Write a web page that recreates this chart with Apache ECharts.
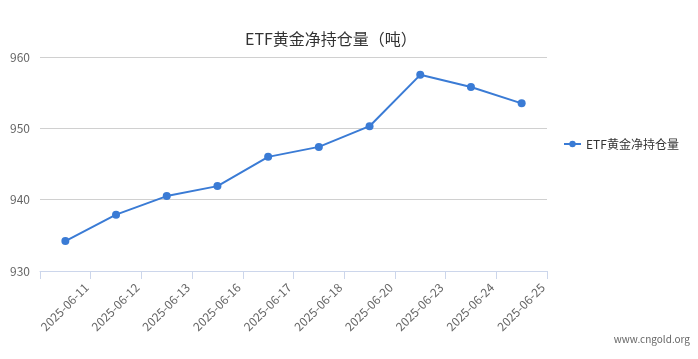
<!DOCTYPE html>
<html><head><meta charset="utf-8">
<script src="https://cdn.jsdelivr.net/npm/echarts@6/dist/echarts.min.js"></script>
<style>html,body{margin:0;padding:0;background:#fff}#c{width:698px;height:359px}</style>
</head><body><div id="c"></div>
<script>
var categories = ['2025-06-11','2025-06-12','2025-06-13','2025-06-16','2025-06-17','2025-06-18','2025-06-20','2025-06-23','2025-06-24','2025-06-25'];
var holdings = [934.2, 937.9, 940.5, 941.9, 946.0, 947.4, 950.3, 957.5, 955.8, 953.5];
var yTicks = [930, 940, 950, 960];
var seriesName = 'ETF黄金净持仓量';
var titleText = 'ETF黄金净持仓量（吨）';

var font = '"Microsoft YaHei","Noto Sans CJK SC","DejaVu Sans",sans-serif';
var chart = echarts.init(document.getElementById('c'));
chart.setOption({
  animation: false,
  textStyle: {fontFamily: font},
  title: {text: titleText, left: 240, top: 26, textStyle: {fontSize: 16, fontWeight: 'normal', color: '#333', fontFamily: font}},
  legend: {orient: 'vertical', left: 558, top: 133, itemWidth: 17, itemHeight: 8, itemGap: 8,
    textStyle: {fontSize: 12, color: '#333', fontFamily: font},
    data: [seriesName]},
  graphic: [{type: 'text', right: 8, top: 334, style: {text: 'www.cngold.org', fill: '#666', font: '10px ' + font}}],
  grid: {left: 40, right: 151, top: 57, bottom: 88},
  xAxis: [{
    type: 'category', data: categories, boundaryGap: true,
    axisLine: {lineStyle: {color: '#ccd6eb'}},
    axisTick: {show: true, interval: 0, length: 8, lineStyle: {color: '#ccd6eb'}},
    axisLabel: {show: false}
  }, {
    type: 'category', position: 'bottom', data: [''].concat(categories), boundaryGap: false,
    axisLine: {show: false}, axisTick: {show: false},
    axisLabel: {rotate: 45, margin: 10, padding: [0, 6, 0, 0], interval: 0, fontSize: 12, color: '#666', fontFamily: font}
  }],
  yAxis: {
    type: 'value', min: yTicks[0], max: yTicks[yTicks.length - 1], interval: 10,
    axisLine: {show: false}, axisTick: {show: false},
    axisLabel: {fontSize: 12, color: '#666', margin: 10, fontFamily: font},
    splitLine: {lineStyle: {color: '#d0d0d0'}}
  },
  series: [{
    name: seriesName, type: 'line', data: holdings, xAxisIndex: 0,
    symbol: 'circle', symbolSize: 8,
    itemStyle: {color: '#3a7bd5'}, lineStyle: {width: 2, color: '#3a7bd5'}
  }]
});
</script></body></html>
